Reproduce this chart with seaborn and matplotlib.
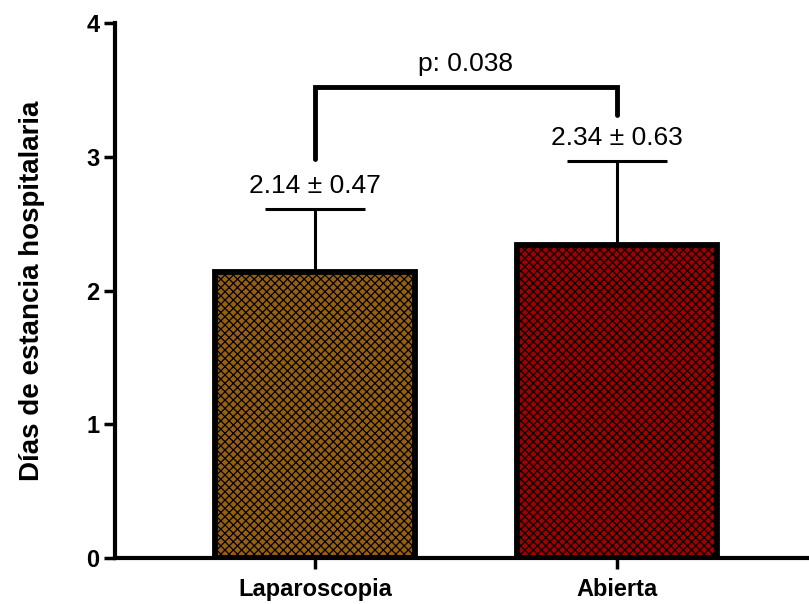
import numpy as np
import matplotlib
matplotlib.use("Agg")
import matplotlib.pyplot as plt
import seaborn as sns

# data
groups = ["Laparoscopia", "Abierta"]
means = [2.14, 2.34]
sds = [0.47, 0.63]
bar_colors = ["#966010", "#a00000"]
p_text = "p: 0.038"

sns.set_style("ticks")
plt.rcParams["font.family"] = ["Liberation Sans", "DejaVu Sans"]
plt.rcParams["text.color"] = "black"
plt.rcParams["hatch.linewidth"] = 0.9

fig = plt.figure(figsize=(8.09, 6.04), dpi=100)
ax = fig.add_axes([0.142, 0.076, 0.858, 0.886])

sns.barplot(x=groups, y=means, hue=groups, palette=bar_colors, legend=False,
            errorbar=None, width=0.66, edgecolor="black", linewidth=4.2,
            saturation=1, ax=ax)
for patch in ax.patches:
    patch.set_hatch("xxxx")

# upper error bars
xs = np.arange(len(groups))
tops = np.array(means) + np.array(sds)
ax.vlines(xs, means, tops, color="black", linewidth=2.2, zorder=1)
ax.hlines(tops, xs - 0.166, xs + 0.166, color="black", linewidth=2.2)

# mean ± sd labels
for x, m, s, t in zip(xs, means, sds, tops):
    ax.text(x, t + 0.08, f"{m:.2f} ± {s:.2f}", ha="center", va="bottom",
            fontsize=19, color="black")

# significance bracket
ax.plot([0, 0, 1, 1], [2.98, 3.52, 3.52, 3.31], color="black",
        linewidth=3.5, solid_joinstyle="miter")
ax.text(0.5, 3.6, p_text, ha="center", va="bottom", fontsize=19, color="black")

ax.set_xlim(-0.662, 1.636)
ax.set_ylim(0, 4)
ax.set_yticks([0, 1, 2, 3, 4])
ax.set_ylabel("Días de estancia hospitalaria", fontsize=20, fontweight="bold",
              labelpad=30, color="black")
ax.tick_params(axis="y", labelsize=17, width=2.5, length=8, pad=3,
               color="black", labelcolor="black")
ax.tick_params(axis="x", labelsize=17, width=2.5, length=8, pad=6,
               color="black", labelcolor="black")
for lab in ax.get_xticklabels() + ax.get_yticklabels():
    lab.set_fontweight("bold")

sns.despine(ax=ax)
for side in ["left", "bottom"]:
    ax.spines[side].set_linewidth(3)
    ax.spines[side].set_color("black")

fig.savefig("out.png", dpi=100)
